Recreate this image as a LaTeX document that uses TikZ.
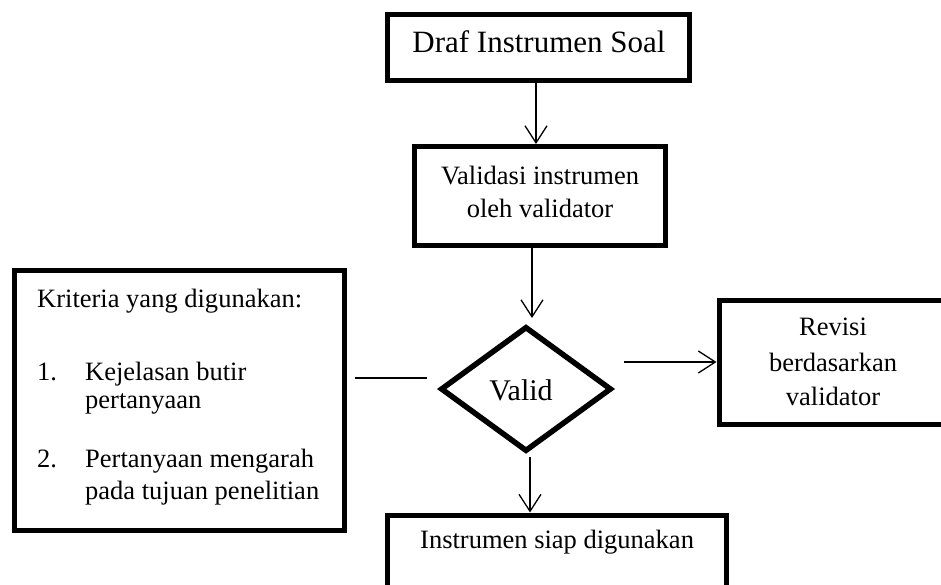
\documentclass[tikz,border=0pt]{standalone}
\usepackage{fontspec}
\setmainfont{Liberation Serif}
\usetikzlibrary{arrows.meta,shapes.geometric}
\tikzset{
  box/.style={draw=black, line width=5pt, rectangle, inner sep=0pt},
  dia/.style={draw=black, line width=5.5pt, diamond, inner sep=0pt, miter limit=20},
  conn/.style={draw=black, line width=1.3pt},
  arr/.style={conn, -{Straight Barb[length=17pt,width=22pt,line width=1.3pt]}},
  txt/.style={inner sep=0pt, font=\fontsize{26.5}{30}\selectfont},
}
\begin{document}
\begin{tikzpicture}[x=1pt,y=-1pt]
\useasboundingbox (0,0) rectangle (941,585);
\clip (0,0) rectangle (941,585);
% boxes
\node[box, minimum width=302pt, minimum height=66pt] (box1) at (538.5,47.5) {};
\node[box, minimum width=251pt, minimum height=99pt] (box2) at (540,196) {};
\node[dia, minimum width=171pt, minimum height=125pt] (d) at (526,389) {};
\node[box, minimum width=330pt, minimum height=260pt] (left) at (179.5,400.5) {};
\node[box, minimum width=229pt, minimum height=124pt] (rev) at (833.5,362.5) {};
\node[box, minimum width=339pt, minimum height=85pt] (fin) at (557,557.5) {};
% texts
\node[inner sep=0pt, anchor=base, font=\fontsize{31}{36}\selectfont] (t1) at (539,53) {Draf Instrumen Soal};
\node[txt, anchor=base] (t2a) at (540,185) {Validasi instrumen};
\node[txt, anchor=base] (t2b) at (540,218) {oleh validator};
\node[inner sep=0pt, anchor=base, font=\fontsize{30}{34}\selectfont] (tv) at (521,400) {Valid};
\node[txt, anchor=base] (tr1) at (833,335) {Revisi};
\node[txt, anchor=base] (tr2) at (833,371) {berdasarkan};
\node[txt, anchor=base] (tr3) at (833,405) {validator};
\node[txt, anchor=base west] (tk) at (37,307) {Kriteria yang digunakan:};
\node[txt, anchor=base west] (tk1n) at (37,380) {1.};
\node[txt, anchor=base west] (tk1a) at (85,380) {Kejelasan butir};
\node[txt, anchor=base west] (tk1b) at (85,408) {pertanyaan};
\node[txt, anchor=base west] (tk2n) at (37,467) {2.};
\node[txt, anchor=base west] (tk2a) at (85,467) {Pertanyaan mengarah};
\node[txt, anchor=base west] (tk2b) at (85,499) {pada tujuan penelitian};
\node[txt, anchor=base west] (tf) at (420,548) {Instrumen siap digunakan};
% connector end points
\coordinate (a1s) at (536,81);
\coordinate (a1e) at (536,145);
\coordinate (a2s) at (532,248);
\coordinate (a2e) at (532,318);
\coordinate (ls) at (355,378);
\coordinate (le) at (427,378);
\coordinate (a3s) at (624,362);
\coordinate (a3e) at (716,362);
\coordinate (a4s) at (530,457);
\coordinate (a4e) at (530,509);
% connectors
\draw[arr] (box1.south -| a1s) -- (box2.north -| a1e);
\draw[arr] (box2.south -| a2s) -- (a2e);
\draw[conn] (ls) -- (le);
\draw[arr] (a3s) -- (rev.west |- a3e);
\draw[arr] (a4s) -- (fin.north -| a4e);
\end{tikzpicture}
\end{document}
